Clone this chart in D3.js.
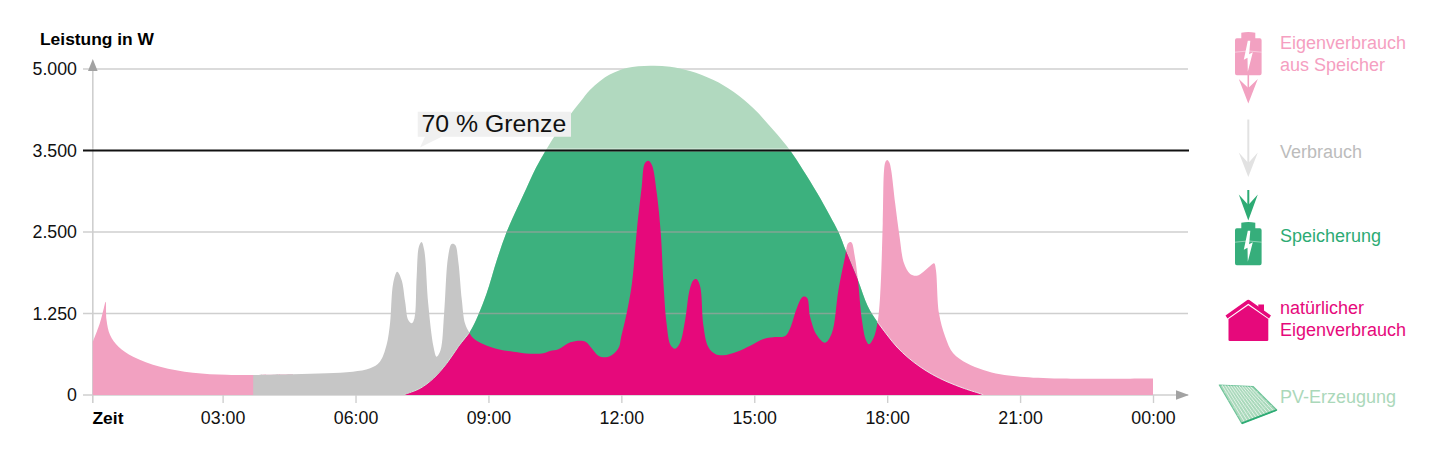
<!DOCTYPE html>
<html><head><meta charset="utf-8">
<script src="https://cdn.jsdelivr.net/npm/d3@7"></script>
<style>
html,body{margin:0;padding:0;background:#fff}
svg{display:block}
text{font-family:"Liberation Sans",Arial,sans-serif}
</style></head><body>
<svg id="c" width="1442" height="472"></svg>
<script>
const consumptionHours=[0.07,0.23,0.32,0.36,0.38,0.46,0.65,0.98,1.59,2.33,3.09,3.69,4.59,5.35,5.94,6.33,6.55,6.70,6.78,6.85,6.94,7.04,7.12,7.19,7.27,7.33,7.38,7.43,7.49,7.55,7.64,7.76,7.83,7.92,8.0,8.09,8.17,8.25,8.32,8.40,8.47,8.57,8.66,8.89,9.22,9.56,9.94,10.24,10.39,10.58,10.85,11.19,11.33,11.48,11.65,11.82,11.95,11.99,12.12,12.24,12.35,12.46,12.53,12.61,12.69,12.80,12.89,12.95,13.02,13.11,13.21,13.32,13.44,13.54,13.63,13.70,13.78,13.85,13.96,14.12,14.30,14.61,14.91,15.21,15.43,15.70,15.81,15.96,16.09,16.19,16.26,16.41,16.60,16.75,16.90,17.05,17.12,17.19,17.27,17.34,17.43,17.52,17.59,17.69,17.78,17.84,17.90,17.93,17.96,18.0,18.05,18.09,18.18,18.28,18.38,18.52,18.67,18.82,18.97,19.06,19.10,19.17,19.31,19.49,19.80,20.17,20.55,21.0,21.9,24.0];
const consumptionWatts=[813,1104,1335,1431,1150,920,741,588,434,342,311,307,318,333,357,410,511,767,1104,1713,1891,1764,1431,1150,1100,1177,1815,2275,2347,2224,1407,741,588,690,1253,2122,2317,2301,2045,1457,1100,956,870,778,701,664,634,640,675,701,808,818,716,603,578,629,741,870,1253,1713,2525,3056,3343,3375,3322,2975,2480,1713,1100,767,710,793,1150,1611,1764,1775,1661,1074,741,629,609,664,756,859,885,905,1023,1330,1503,1493,1201,920,802,946,1611,2122,2327,2342,2122,1764,1150,844,778,870,1100,1508,2607,3261,3359,3384,3353,3261,2852,2428,2020,1856,1830,1891,1979,2020,1918,1253,894,640,486,384,318,281,253,253];
const pvHours=[7.09,7.12,7.46,7.76,8.06,8.32,8.57,8.77,8.96,9.19,9.41,9.65,9.85,10.07,10.32,10.57,10.84,11.07,11.29,11.52,11.74,12.12,12.65,13.1,13.55,14.08,14.53,14.98,15.43,15.81,16.10,16.42,16.71,16.90,17.07,17.34,17.56,17.78,18.0,18.22,18.47,18.74,19.03,19.35,19.74,20.14,20.17];
const pvWatts=[0,11,103,256,486,741,956,1227,1560,2071,2500,2794,3028,3285,3537,3859,4153,4392,4613,4779,4898,5018,5060,5042,4963,4797,4582,4276,3877,3500,3261,2979,2696,2500,2209,1764,1365,1120,920,736,575,434,311,204,100,11,0];
const yTicks=[0,1250,2500,3500,5000];
const yTickLabels=["0","1.250","2.500","3.500","5.000"];
const xTicks=[3,6,9,12,15,18,21,24];
const xTickLabels=["03:00","06:00","09:00","12:00","15:00","18:00","21:00","00:00"];
const limitWatts=3500;
const selfFromStorageRanges=[[0,4.59],[16.9,24]];
const gridConsumptionRange=[3.69,8.66];
const legendLabels=[["Eigenverbrauch","aus Speicher"],["Verbrauch"],["Speicherung"],["natürlicher","Eigenverbrauch"],["PV-Erzeugung"]];

const col={pink:"#f2a1c1",grey:"#c6c6c6",light:"#b1d9bf",green:"#3cb17e",mag:"#e6097b",axis:"#cfcfcf"};
const svg=d3.select("#c");
const x=d3.scaleLinear().domain([0,24]).range([89.7,1153]);
const y=d3.scaleLinear().domain(yTicks).range([395,313.5,232,150.5,69]);
const cons=consumptionHours.map((h,i)=>({h,w:consumptionWatts[i]}));
const pv=pvHours.map((h,i)=>({h,w:pvWatts[i]}));
const curve=d3.curveCatmullRom.alpha(0.5);
const area=d3.area().x(d=>x(d.h)).y0(y(0)).y1(d=>y(d.w)).curve(curve);
const line=d3.line().x(d=>x(d.h)).y(d=>y(d.w)).curve(curve);
const inR=(h,r)=>h>=r[0]&&h<=r[1];
const X0=x(0.07),XR=1188;

const defs=svg.append("defs");
defs.append("clipPath").attr("id","pvClip").append("path").attr("d",area(pv));
defs.append("clipPath").attr("id","below").append("rect").attr("x",0).attr("width",1442).attr("y",y(limitWatts)+1).attr("height",y(0)-y(limitWatts)-1);

// grid + axes
const gridG=svg.append("g");
const drawGrid=(g,stroke,op)=>g.selectAll("line").data(yTicks.filter(v=>v!==limitWatts)).join("line")
  .attr("x1",83).attr("x2",XR).attr("y1",d=>y(d)).attr("y2",d=>y(d)).attr("stroke",stroke).attr("stroke-width",1.4).attr("opacity",op);
drawGrid(gridG,col.axis,1);
gridG.append("line").attr("x1",X0).attr("x2",X0).attr("y1",66).attr("y2",403).attr("stroke",col.axis).attr("stroke-width",1.6);
gridG.append("path").attr("d",d3.line()([[X0,59],[X0+4.8,71],[X0-4.8,71]])+"Z").attr("fill","#a2a2a2");
gridG.append("path").attr("d",d3.line()([[1189,395],[1176,390.3],[1176,399.7]])+"Z").attr("fill","#a2a2a2");

const yAxis=d3.axisLeft(y).tickValues(yTicks).tickFormat((d,i)=>yTickLabels[i]).tickSize(0).tickPadding(0);
const yg=svg.append("g").attr("transform","translate(77,0)").call(yAxis);
yg.select(".domain").remove();
yg.selectAll("text").attr("font-size",17.8).attr("fill","#111");
const xAxis=d3.axisBottom(x).tickValues(xTicks).tickFormat((d,i)=>xTickLabels[i]).tickSize(8).tickPadding(8);
const xg=svg.append("g").attr("transform","translate(0,395)").call(xAxis);
xg.select(".domain").remove();
xg.selectAll("line").attr("stroke",col.axis).attr("stroke-width",1.4);
xg.selectAll("text").attr("font-size",17.8).attr("fill","#111").attr("y",0).attr("dy",null).attr("transform","translate(0,29)");
svg.append("text").attr("x",40).attr("y",45).attr("font-size",17.4).attr("font-weight",700).attr("fill","#000").text("Leistung in W");
svg.append("text").attr("x",92.5).attr("y",424).attr("font-size",17.4).attr("font-weight",700).attr("fill","#000").text("Zeit");

// consumption from storage + uncovered consumption
svg.append("path").attr("fill",col.pink).attr("d",area.defined(d=>selfFromStorageRanges.some(r=>inR(d.h,r)))(cons));
svg.append("path").attr("fill",col.grey).attr("d",area.defined(d=>inR(d.h,gridConsumptionRange))(cons));
area.defined(()=>true);

// PV production
svg.append("path").attr("fill",col.light).attr("d",area(pv));
svg.append("path").attr("fill",col.green).attr("clip-path","url(#below)").attr("d",area(pv));
const overG=svg.append("g").attr("clip-path","url(#pvClip)");
const og=overG.append("g").attr("clip-path","url(#below)");
drawGrid(og,"#9aa39e",0.75);
// natural self-consumption
svg.append("path").attr("fill",col.mag).attr("clip-path","url(#pvClip)").attr("d",area(cons));
svg.append("path").attr("fill","none").attr("stroke","#f6dfe9").attr("stroke-width",1)
  .attr("d",line.defined(d=>d.h>=17.78)(pv));
svg.append("path").attr("fill","none").attr("stroke","#d3e6da").attr("stroke-width",1)
  .attr("d",line.defined(d=>d.h<=8.57)(pv));

// 70 % line
svg.append("line").attr("x1",83).attr("x2",1189).attr("y1",y(limitWatts)-1.6).attr("y2",y(limitWatts)-1.6).attr("stroke","#fff").attr("stroke-width",1).attr("opacity",.5);
svg.append("line").attr("x1",83).attr("x2",1189).attr("y1",y(limitWatts)).attr("y2",y(limitWatts)).attr("stroke","#111").attr("stroke-width",2);
svg.append("path").attr("fill","#f0f0f0").attr("d","M417.7,111.7H571V136.7H441.7L420,147.5L425,136.7H417.7Z");
svg.append("text").attr("x",421.5).attr("y",132).attr("font-size",24.8).attr("fill","#111").text("70 % Grenze");

// legend
const lg=svg.append("g");
const labelCols=["#f59fc1","#bcbcbc","#2dab74",col.mag,"#abd8ba"];
const labelY=[[49.3,70.7],[157.7],[241.5],[314,335.7],[402.7]];
legendLabels.forEach((ls,i)=>ls.forEach((t,j)=>lg.append("text").attr("x",1280).attr("y",labelY[i][j]).attr("font-size",18).attr("fill",labelCols[i]).text(t)));
function battery(y0,c){
  const g=lg.append("g").attr("transform",`translate(1248.3,${y0})`);
  g.append("path").attr("fill",c).attr("d","M-7,0Q0,-1.5 7,0V5.5H11.5Q13.3,5.5 13.3,7.5V40.5Q13.3,42.5 11.5,42.5H-11.5Q-13.3,42.5 -13.3,40.5V7.5Q-13.3,5.5 -11.5,5.5H-7Z");
  g.append("path").attr("fill","none").attr("stroke","#fff").attr("stroke-opacity",.55).attr("stroke-width",.8).attr("d","M-13.3,19.5Q0,17 13.3,19.5");
  g.append("path").attr("fill","#fff").attr("d","M-0.5,8L-4.5,27L-0.8,25L-0.5,39L4.5,19.5L0.8,21.5L2,8Z");
}
function arrow(x0,top,wingY,notchY,tip,c,sw){
  lg.append("line").attr("x1",x0).attr("x2",x0).attr("y1",top).attr("y2",notchY+1).attr("stroke",c).attr("stroke-width",sw);
  lg.append("path").attr("fill",c).attr("d",`M${x0},${tip}L${x0-9.5},${wingY}L${x0},${notchY}L${x0+9.5},${wingY}Z`);
}
battery(32.7,"#f2a1c1");
arrow(1248.3,75,79,88,103.5,"#f2a1c1",1.6);
arrow(1248.3,119.5,152.5,163,177,"#e2e2e2",2);
arrow(1248.3,190,194.5,205,220.5,"#2dab74",2);
battery(222.7,"#36ae7b");
// house
lg.append("path").attr("fill","none").attr("stroke",col.mag).attr("stroke-width",3.4).attr("stroke-linejoin","round").attr("d","M1226.5,317L1248.3,301.5L1270,317");
lg.append("path").attr("fill",col.mag).attr("d","M1258.3,304.5H1264V312.5L1258.3,308.5Z");
lg.append("path").attr("fill",col.mag).attr("d","M1228.5,319L1248.3,305.3L1268.3,319V340Q1268.3,341 1267,341H1229.8Q1228.5,341 1228.5,340Z");
// panel
const panel=[[1219.3,385],[1253.3,386.7],[1276.7,410],[1241.7,423.3]];
lg.append("path").attr("fill","#a9d9bb").attr("stroke","#6fc49a").attr("stroke-width",1.2).attr("stroke-linejoin","round").attr("d",d3.line()(panel)+"Z");
const lerp=(a,b,t)=>[a[0]+(b[0]-a[0])*t,a[1]+(b[1]-a[1])*t];
const panelLines=d3.range(1,12).map(i=>[lerp(panel[0],panel[1],i/12),lerp(panel[3],panel[2],i/12)]);
lg.append("g").selectAll("path").data(panelLines).join("path").attr("d",d=>d3.line()(d)).attr("stroke","#e4f3e9").attr("stroke-width",1);
const panelRows=d3.range(1,5).map(i=>[lerp(panel[0],panel[3],i/5),lerp(panel[1],panel[2],i/5)]);
lg.append("g").selectAll("path").data(panelRows).join("path").attr("d",d=>d3.line()(d)).attr("stroke","#bfe3cd").attr("stroke-width",.6);
lg.append("path").attr("fill","none").attr("stroke","#2dab74").attr("stroke-width",1.8).attr("d",d3.line()([panel[3],panel[2]]));
</script>
</body></html>
